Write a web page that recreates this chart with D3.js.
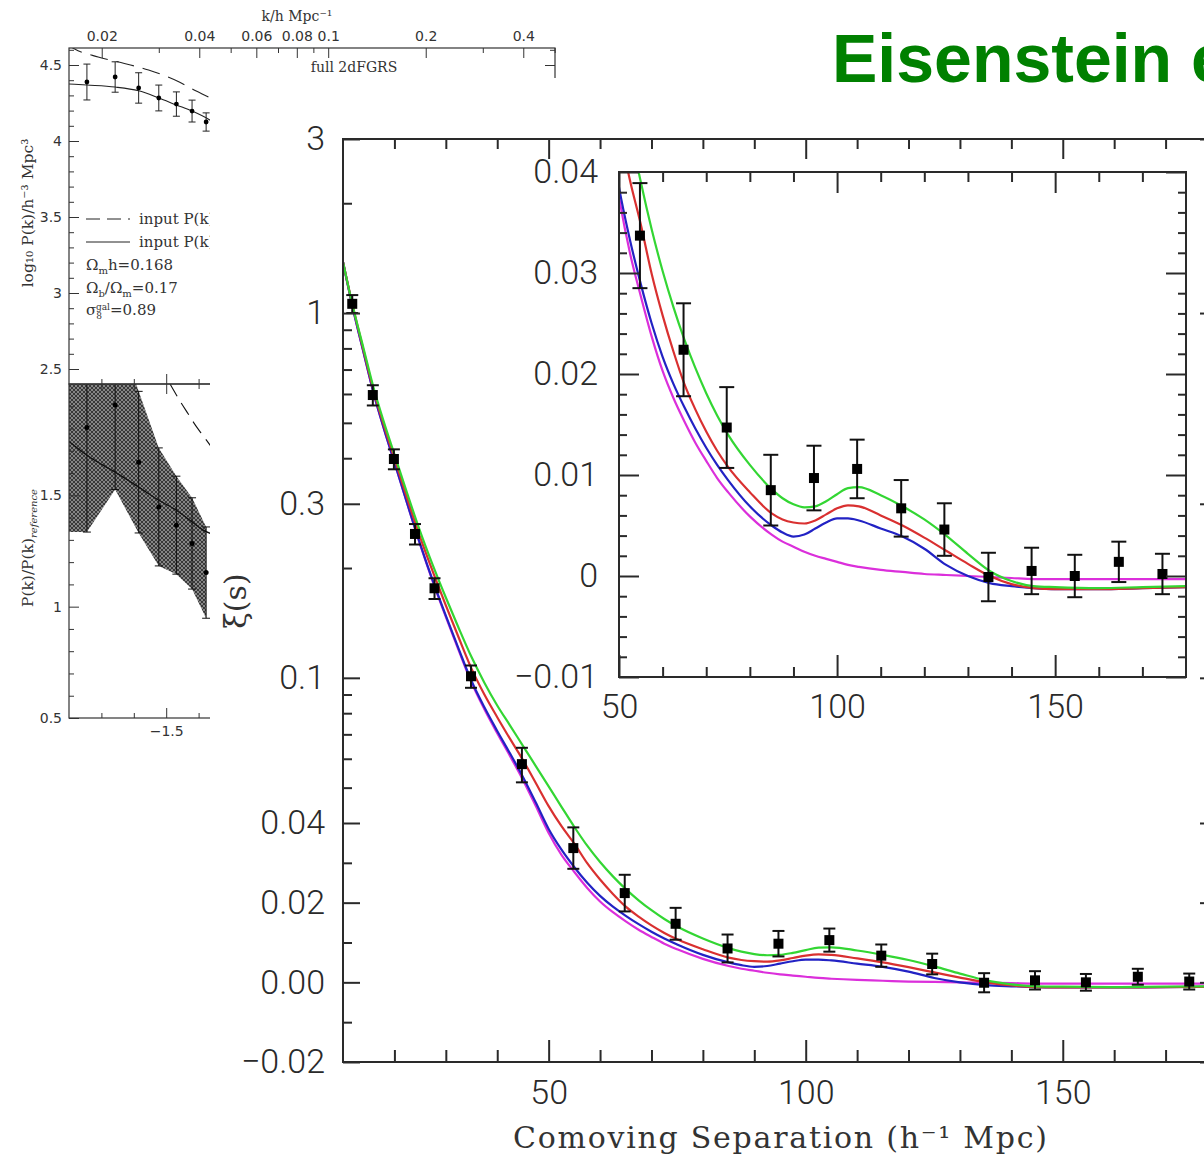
<!DOCTYPE html>
<html><head><meta charset="utf-8">
<script src="https://cdn.jsdelivr.net/npm/d3@7"></script>
<style>html,body{margin:0;padding:0;background:#fff;overflow:hidden}svg{display:block}</style>
</head><body>
<svg id="c" width="1204" height="1156"></svg>
<script>
// ================= DATA =================
// Main figure: model curves xi(s)
const curveS = [10,12,14,16,18,20,22.5,25,27.5,30,32.5,35,37.5,40,42.5,45,47.5,50,52.5,55,57.5,60,62.5,65,67.5,70,72.5,75,80,85,87.5,90,92.5,95,97.5,100,102.5,105,110,115,120,125,130,135,140,145,150,160,170,180];
const xiMagenta = [1.38,1.02,0.78,0.60,0.48,0.39,0.30,0.232,0.183,0.147,0.119,0.097,0.082,0.0705,0.061,0.0525,0.0445,0.0375,0.032,0.0277,0.0237,0.0203,0.0176,0.0153,0.0132,0.0114,0.0097,0.0083,0.0059,0.0041,0.0034,0.0029,0.0024,0.0020,0.0017,0.0014,0.0011,0.0009,0.0006,0.0004,0.0002,0.0001,0.0000,-0.0001,-0.0002,-0.0003,-0.0003,-0.0003,-0.0003,-0.0003];
const xiBlue = [1.38,1.02,0.78,0.60,0.48,0.39,0.30,0.233,0.184,0.148,0.120,0.098,0.083,0.0715,0.062,0.0535,0.0455,0.0385,0.0333,0.0289,0.0250,0.0217,0.0190,0.0167,0.0146,0.0127,0.0110,0.0095,0.0069,0.0050,0.0043,0.0039,0.0041,0.0047,0.0053,0.0057,0.0057,0.0055,0.0047,0.0039,0.0027,0.0011,0.0000,-0.0007,-0.0010,-0.0012,-0.0013,-0.0013,-0.0012,-0.0011];
const xiRed = [1.38,1.03,0.79,0.61,0.49,0.40,0.31,0.243,0.195,0.158,0.129,0.106,0.090,0.078,0.068,0.0595,0.0515,0.0445,0.0392,0.0348,0.0299,0.0258,0.0222,0.0190,0.0165,0.0143,0.0124,0.0108,0.0083,0.0062,0.0056,0.0053,0.0052,0.0055,0.0061,0.0067,0.0070,0.0069,0.0060,0.0050,0.0038,0.0025,0.0012,0.0000,-0.0008,-0.0012,-0.0013,-0.0013,-0.0012,-0.0011];
const xiGreen = [1.38,1.03,0.80,0.62,0.50,0.41,0.32,0.252,0.203,0.166,0.137,0.114,0.097,0.084,0.0740,0.0651,0.0573,0.0504,0.0443,0.0390,0.0343,0.0302,0.0266,0.0234,0.0206,0.0181,0.0159,0.0140,0.0110,0.0086,0.0077,0.0071,0.0068,0.0069,0.0074,0.0081,0.0087,0.0088,0.0080,0.0069,0.0056,0.0040,0.0022,0.0005,-0.0005,-0.0010,-0.0011,-0.0012,-0.0011,-0.0010];
// Main figure: measured points
const pointS   = [11.8,15.8,19.9,24.0,27.8,34.9,44.8,54.8,64.8,74.7,84.8,94.7,104.6,114.7,124.6,134.7,144.6,154.5,164.6,174.6];
const pointXi  = [1.06,0.596,0.398,0.248,0.176,0.101,0.058,0.0337,0.0224,0.0147,0.0085,0.0097,0.0106,0.0067,0.0046,-0.0001,0.0005,0.0000,0.0014,0.0002];
const pointErr = [0.06,0.038,0.025,0.016,0.0115,0.0071,0.0063,0.0052,0.0046,0.0040,0.0035,0.0032,0.0029,0.0028,0.0026,0.0024,0.0023,0.0021,0.0020,0.0020];
// Main axes ticks
const mainXMajor = [50,100,150];
const mainXMinor = [20,30,40,60,70,80,90,110,120,130,140,160,170];
const mainYLogMajor = [3,1,0.3,0.1,0.04];
const mainYLogLabels = ["3","1","0.3","0.1","0.04"];
const mainYLogMinor = [2,0.9,0.8,0.7,0.6,0.5,0.4,0.2,0.09,0.08,0.07,0.06,0.05];
const mainYLinMajor = [0.02,0.00,-0.02];
const mainYLinLabels = ["0.02","0.00","\u22120.02"];
const mainYLinMinor = [0.03,0.01,-0.01];
// Inset ticks
const insetXMajor = [50,100,150];
const insetXMinor = [60,70,80,90,110,120,130,140,160,170];
const insetYMajor = [-0.01,0,0.01,0.02,0.03,0.04];
const insetYLabels = ["\u22120.01","0","0.01","0.02","0.03","0.04"];
const insetYMinor = [-0.008,-0.006,-0.004,-0.002,0.002,0.004,0.006,0.008,0.012,0.014,0.016,0.018,0.022,0.024,0.026,0.028,0.032,0.034,0.036,0.038];

// Background figure (2dFGRS power spectrum)
const pkK    = [0.018,0.022,0.026,0.030,0.034,0.038,0.042];
const pkLog  = [4.388,4.421,4.349,4.283,4.243,4.197,4.125];
const pkErr  = [0.118,0.10,0.10,0.085,0.08,0.072,0.06];
const pkSolidK   = [0.01585,0.018,0.022,0.026,0.030,0.034,0.038,0.043,0.046];
const pkSolidLog = [4.375,4.368,4.355,4.33,4.283,4.237,4.197,4.14,4.10];
const pkDashK    = [0.0155,0.0165,0.0195,0.0235,0.0279,0.0347,0.039,0.0435,0.046];
const pkDashLog  = [4.64,4.605,4.553,4.51,4.467,4.388,4.33,4.28,4.25];
const ratio      = [1.805,1.906,1.649,1.448,1.366,1.284,1.153];
const ratioErr   = [0.47,0.38,0.318,0.265,0.22,0.205,0.205];
const ratioSolidK = [0.01585,0.018,0.022,0.026,0.030,0.034,0.038,0.041,0.044];
const ratioSolid  = [1.742,1.68,1.604,1.537,1.478,1.433,1.381,1.345,1.325];
const ratioDashK  = [0.0325,0.035,0.037,0.039,0.041,0.044];
const ratioDash   = [2.0,1.92,1.865,1.813,1.77,1.71];
const kTopMajor = [0.02,0.04,0.06,0.08,0.1,0.2,0.4];
const kTopLabels = ["0.02","0.04","0.06","0.08","0.1","0.2","0.4"];
const kTopMinor = [0.03,0.05,0.07,0.09,0.3,0.5];
const logPMajor = [2.5,3,3.5,4,4.5];
const logPMinor = [2.6,2.7,2.8,2.9,3.1,3.2,3.3,3.4,3.6,3.7,3.8,3.9,4.1,4.2,4.3,4.4,4.6];
const ratioMajor = [0.5,1,1.5];
const ratioMinor = [0.6,0.7,0.8,0.9,1.1,1.2,1.3,1.4,1.6,1.7,1.8,1.9];
const logKMajor = [-1.5,-1,-0.5];
const logKLabels = ["\u22121.5","\u22121","\u22120.5"];
const logKMinor = [-1.7,-1.6,-1.4,-1.3,-1.2,-1.1,-0.9,-0.8,-0.7,-0.6,-0.4];

// ================= DRAW =================
const svg = d3.select("#c");
const defs = svg.append("defs");
const NUM = "Roboto, 'Liberation Sans', sans-serif";
const SERIF = "'DejaVu Serif', serif";
const SMALL = "'DejaVu Sans', sans-serif";

function styleAxis(g, font, size, color, sw) {
  g.select(".domain").remove();
  g.attr("font-family", font).attr("font-size", size).attr("color", color);
  g.selectAll("line").attr("stroke-width", sw);
  g.selectAll("text").attr("font-weight", font === NUM ? 300 : null);
}

// ---------- Background figure (left) ----------
defs.append("clipPath").attr("id","clipLeft").append("path").attr("d","M0,0H1204V78H210V1156H0Z");
defs.append("clipPath").attr("id","clipTopP").append("rect").attr("x",69).attr("y",48).attr("width",486).attr("height",336);
defs.append("clipPath").attr("id","clipBotP").append("rect").attr("x",69).attr("y",384).attr("width",486).attr("height",334);
const pat = defs.append("pattern").attr("id","hatch").attr("patternUnits","userSpaceOnUse").attr("width",4).attr("height",4);
pat.append("rect").attr("width",4).attr("height",4).attr("fill","#868686");
pat.append("path").attr("d","M0,0L4,4M4,0L0,4").attr("stroke","#303030").attr("stroke-width",0.9);

const kX = d3.scaleLog().domain([Math.pow(10,-1.8), Math.pow(10,-0.3)]).range([69,555]);
const lkX = d3.scaleLinear().domain([-1.8,-0.3]).range([69,555]);
const yTop = d3.scaleLinear().domain([2.5,4.5]).range([369,65]);
const yBot = d3.scaleLinear().domain([0.5,2.0]).range([718,384]);

const L = svg.append("g").attr("clip-path","url(#clipLeft)");
const LC = "#333";

// bottom panel band
const bandData = [{k:kX.domain()[0], r:ratio[0], e:ratioErr[0]}].concat(pkK.map((k,i)=>({k, r:ratio[i], e:ratioErr[i]})));
const botP = L.append("g").attr("clip-path","url(#clipBotP)");
botP.append("path").datum(bandData)
  .attr("d", d3.area().x(d=>kX(d.k)).y0(d=>yBot(d.r-d.e)).y1(d=>yBot(d.r+d.e)))
  .attr("fill","url(#hatch)");
botP.append("path").datum(ratioSolidK.map((k,i)=>[k,ratioSolid[i]]))
  .attr("d", d3.line().x(d=>kX(d[0])).y(d=>yBot(d[1])).curve(d3.curveMonotoneX))
  .attr("fill","none").attr("stroke","#111").attr("stroke-width",1.3);
botP.append("path").datum(ratioDashK.map((k,i)=>[k,ratioDash[i]]))
  .attr("d", d3.line().x(d=>kX(d[0])).y(d=>yBot(d[1])).curve(d3.curveMonotoneX))
  .attr("fill","none").attr("stroke","#111").attr("stroke-width",1.1).attr("stroke-dasharray","14,8");
const rb = botP.append("g").selectAll("g").data(pkK.map((k,i)=>({k,r:ratio[i],e:ratioErr[i]}))).join("g");
rb.append("line").attr("x1",d=>kX(d.k)).attr("x2",d=>kX(d.k)).attr("y1",d=>yBot(d.r-d.e)).attr("y2",d=>yBot(d.r+d.e)).attr("stroke","#111").attr("stroke-width",1);
rb.append("line").attr("x1",d=>kX(d.k)-4).attr("x2",d=>kX(d.k)+4).attr("y1",d=>yBot(d.r-d.e)).attr("y2",d=>yBot(d.r-d.e)).attr("stroke","#111");
rb.append("line").attr("x1",d=>kX(d.k)-4).attr("x2",d=>kX(d.k)+4).attr("y1",d=>yBot(d.r+d.e)).attr("y2",d=>yBot(d.r+d.e)).attr("stroke","#111");
rb.append("circle").attr("cx",d=>kX(d.k)).attr("cy",d=>yBot(d.r)).attr("r",2.5).attr("fill","#000");

// top panel
const topP = L.append("g").attr("clip-path","url(#clipTopP)");
topP.append("path").datum(pkSolidK.map((k,i)=>[k,pkSolidLog[i]]))
  .attr("d", d3.line().x(d=>kX(d[0])).y(d=>yTop(d[1])).curve(d3.curveMonotoneX))
  .attr("fill","none").attr("stroke","#222").attr("stroke-width",1.1);
topP.append("path").datum(pkDashK.map((k,i)=>[k,pkDashLog[i]]))
  .attr("d", d3.line().x(d=>kX(d[0])).y(d=>yTop(d[1])).curve(d3.curveMonotoneX))
  .attr("fill","none").attr("stroke","#222").attr("stroke-width",1.1).attr("stroke-dasharray","18,9");
const tp = topP.append("g").selectAll("g").data(pkK.map((k,i)=>({k,v:pkLog[i],e:pkErr[i]}))).join("g");
tp.append("line").attr("x1",d=>kX(d.k)).attr("x2",d=>kX(d.k)).attr("y1",d=>yTop(d.v-d.e)).attr("y2",d=>yTop(d.v+d.e)).attr("stroke","#222");
tp.append("line").attr("x1",d=>kX(d.k)-3.5).attr("x2",d=>kX(d.k)+3.5).attr("y1",d=>yTop(d.v-d.e)).attr("y2",d=>yTop(d.v-d.e)).attr("stroke","#222");
tp.append("line").attr("x1",d=>kX(d.k)-3.5).attr("x2",d=>kX(d.k)+3.5).attr("y1",d=>yTop(d.v+d.e)).attr("y2",d=>yTop(d.v+d.e)).attr("stroke","#222");
tp.append("circle").attr("cx",d=>kX(d.k)).attr("cy",d=>yTop(d.v)).attr("r",2.4).attr("fill","#000");

// frames
L.append("rect").attr("x",69).attr("y",48).attr("width",486).attr("height",336).attr("fill","none").attr("stroke",LC).attr("stroke-width",1.2);
L.append("rect").attr("x",69).attr("y",384).attr("width",486).attr("height",334).attr("fill","none").attr("stroke",LC).attr("stroke-width",1.2);

// axes of left figure
function lAxis(gen, tr, vals, size, fmt, pad) {
  const g = L.append("g").attr("transform", tr)
    .call(gen.tickValues(vals).tickSize(size).tickPadding(pad||6).tickFormat(fmt || (()=>"")));
  styleAxis(g, SMALL, 14, LC, 1);
  return g;
}
lAxis(d3.axisLeft(yTop), "translate(69,0)", logPMajor, -10, d=>String(d), 7);
lAxis(d3.axisLeft(yTop), "translate(69,0)", logPMinor, -5);
lAxis(d3.axisRight(yTop), "translate(555,0)", logPMajor, -10);
lAxis(d3.axisRight(yTop), "translate(555,0)", logPMinor, -5);
lAxis(d3.axisTop(kX), "translate(0,48)", kTopMajor, -10, (d,i)=>kTopLabels[i], 7);
lAxis(d3.axisTop(kX), "translate(0,48)", kTopMinor, -5);
lAxis(d3.axisBottom(lkX), "translate(0,384)", logKMajor, -10);
lAxis(d3.axisBottom(lkX), "translate(0,384)", logKMinor, -5);
lAxis(d3.axisTop(lkX), "translate(0,384)", logKMajor, -10);
lAxis(d3.axisTop(lkX), "translate(0,384)", logKMinor, -5);
lAxis(d3.axisBottom(lkX), "translate(0,718)", logKMajor, -10, (d,i)=>logKLabels[i], 8);
lAxis(d3.axisBottom(lkX), "translate(0,718)", logKMinor, -5);
lAxis(d3.axisLeft(yBot), "translate(69,0)", ratioMajor, -10, d=>String(d), 7);
lAxis(d3.axisLeft(yBot), "translate(69,0)", ratioMinor, -5);

// left figure texts
L.append("text").attr("x",297).attr("y",21).attr("text-anchor","middle").attr("font-family",SERIF).attr("font-size",14).attr("fill",LC).text("k/h Mpc\u207B\u00B9");
L.append("text").attr("x",354).attr("y",72).attr("text-anchor","middle").attr("font-family",SERIF).attr("font-size",14).attr("fill",LC).text("full 2dFGRS");
L.append("text").attr("transform","translate(33,213) rotate(-90)").attr("text-anchor","middle").attr("font-family",SERIF).attr("font-size",15.5).attr("fill",LC).text("log\u2081\u2080 P(k)/h\u207B\u00B3 Mpc\u00B3");
const rl = L.append("text").attr("transform","translate(33,548) rotate(-90)").attr("text-anchor","middle").attr("font-family",SERIF).attr("font-size",15.5).attr("fill",LC);
rl.append("tspan").text("P(k)/P(k)");
rl.append("tspan").attr("dy",4).attr("font-size",10).attr("font-style","italic").text("reference");
// legend
L.append("line").attr("x1",86).attr("x2",130).attr("y1",219).attr("y2",219).attr("stroke","#222").attr("stroke-dasharray","14,7");
L.append("line").attr("x1",86).attr("x2",130).attr("y1",242).attr("y2",242).attr("stroke","#222");
L.append("text").attr("x",139).attr("y",224).attr("font-family",SERIF).attr("font-size",15).attr("fill",LC).text("input P(k)");
L.append("text").attr("x",139).attr("y",247).attr("font-family",SERIF).attr("font-size",15).attr("fill",LC).text("input P(k)");
const t1 = L.append("text").attr("x",86).attr("y",270).attr("font-family",SERIF).attr("font-size",15).attr("fill",LC);
t1.append("tspan").text("\u03A9"); t1.append("tspan").attr("dy",4).attr("font-size",10).text("m"); t1.append("tspan").attr("dy",-4).text("h=0.168");
const t2 = L.append("text").attr("x",86).attr("y",293).attr("font-family",SERIF).attr("font-size",15).attr("fill",LC);
t2.append("tspan").text("\u03A9"); t2.append("tspan").attr("dy",4).attr("font-size",10).text("b"); t2.append("tspan").attr("dy",-4).text("/\u03A9");
t2.append("tspan").attr("dy",4).attr("font-size",10).text("m"); t2.append("tspan").attr("dy",-4).text("=0.17");
const t3 = L.append("text").attr("x",86).attr("y",315).attr("font-family",SERIF).attr("font-size",15).attr("fill",LC);
t3.append("tspan").text("\u03C3"); t3.append("tspan").attr("dy",4).attr("font-size",9).text("8");
t3.append("tspan").attr("dx",-6).attr("dy",-9).attr("font-size",9).text("gal"); t3.append("tspan").attr("dy",5).text("=0.89");

// ---------- Main figure ----------
const xM = d3.scaleLinear().domain([10,180]).range([343,1217]);
const yLogM = d3.scaleLog().domain([0.04,3]).range([823,139]);
const yLinM = d3.scaleLinear().domain([-0.02,0.04]).range([1062,823]);
const yM = v => v >= 0.04 ? yLogM(v) : yLinM(v);
defs.append("clipPath").attr("id","clipMain").append("rect").attr("x",343).attr("y",139).attr("width",874).attr("height",923);

const series = [
  {name:"magenta", color:"#db2fdb", v:xiMagenta},
  {name:"blue", color:"#2222c4", v:xiBlue},
  {name:"red", color:"#d93030", v:xiRed},
  {name:"green", color:"#33d633", v:xiGreen}
];
const G = svg.append("g");
const lineM = d3.line().x(d=>xM(d[0])).y(d=>yM(d[1])).curve(d3.curveMonotoneX);
const curvesM = G.append("g").attr("clip-path","url(#clipMain)");
series.forEach(s => {
  curvesM.append("path").datum(curveS.map((x,i)=>[x,s.v[i]])).attr("d",lineM)
    .attr("fill","none").attr("stroke",s.color).attr("stroke-width",2.2);
});
const pts = pointS.map((s,i)=>({s, v:pointXi[i], e:pointErr[i]}));
function drawPoints(g, xs, ys, cap, sq) {
  const p = g.append("g").selectAll("g").data(pts.filter(d=>xs(d.s)>=xs.range()[0] && xs(d.s)<=xs.range()[1])).join("g");
  p.append("line").attr("x1",d=>xs(d.s)).attr("x2",d=>xs(d.s)).attr("y1",d=>ys(d.v-d.e)).attr("y2",d=>ys(d.v+d.e)).attr("stroke","#111").attr("stroke-width",2);
  p.append("line").attr("x1",d=>xs(d.s)-cap/2).attr("x2",d=>xs(d.s)+cap/2).attr("y1",d=>ys(d.v-d.e)).attr("y2",d=>ys(d.v-d.e)).attr("stroke","#111").attr("stroke-width",2);
  p.append("line").attr("x1",d=>xs(d.s)-cap/2).attr("x2",d=>xs(d.s)+cap/2).attr("y1",d=>ys(d.v+d.e)).attr("y2",d=>ys(d.v+d.e)).attr("stroke","#111").attr("stroke-width",2);
  p.append("rect").attr("x",d=>xs(d.s)-sq/2).attr("y",d=>ys(d.v)-sq/2).attr("width",sq).attr("height",sq).attr("fill","#000");
}
drawPoints(G.append("g").attr("clip-path","url(#clipMain)"), xM, yM, 12, 10);

const MC = "#2a2a2a";
function mAxis(parent, gen, tr, vals, size, fmt, pad, font, fsize) {
  const g = parent.append("g").attr("transform", tr)
    .call(gen.tickValues(vals).tickSize(size).tickPadding(pad||8).tickFormat(fmt || (()=>"")));
  styleAxis(g, font||NUM, fsize||34, MC, 2);
  return g;
}
mAxis(G, d3.axisLeft(yLogM), "translate(343,0)", mainYLogMajor, -17, (d,i)=>mainYLogLabels[i], 18);
mAxis(G, d3.axisLeft(yLogM), "translate(343,0)", mainYLogMinor, -9);
mAxis(G, d3.axisLeft(yLinM), "translate(343,0)", mainYLinMajor, -17, (d,i)=>mainYLinLabels[i], 18);
mAxis(G, d3.axisLeft(yLinM), "translate(343,0)", mainYLinMinor, -9);
mAxis(G, d3.axisRight(yLogM), "translate(1217,0)", mainYLogMajor, -17);
mAxis(G, d3.axisRight(yLogM), "translate(1217,0)", mainYLogMinor, -9);
mAxis(G, d3.axisRight(yLinM), "translate(1217,0)", mainYLinMajor, -17);
mAxis(G, d3.axisRight(yLinM), "translate(1217,0)", mainYLinMinor, -9);
mAxis(G, d3.axisBottom(xM), "translate(0,1062)", mainXMajor, -22, d=>String(d), 18);
mAxis(G, d3.axisBottom(xM), "translate(0,1062)", mainXMinor, -12);
mAxis(G, d3.axisTop(xM), "translate(0,139)", mainXMajor, -20);
mAxis(G, d3.axisTop(xM), "translate(0,139)", mainXMinor, -10);
G.append("rect").attr("x",343).attr("y",139).attr("width",874).attr("height",923).attr("fill","none").attr("stroke",MC).attr("stroke-width",2);

G.append("text").attr("x",780).attr("y",1148).attr("text-anchor","middle").attr("font-family",SERIF).attr("font-size",30)
  .attr("fill","#333").attr("textLength",534).attr("lengthAdjust","spacing").text("Comoving Separation (h\u207B\u00B9 Mpc)");
G.append("text").attr("transform","translate(246,601) rotate(-90)").attr("text-anchor","middle").attr("font-family",SERIF).attr("font-size",30)
  .attr("fill","#333").text("\u03BE(s)");

// ---------- Inset ----------
const xI = d3.scaleLinear().domain([50,180]).range([619,1186]);
const yI = d3.scaleLinear().domain([-0.01,0.04]).range([677,172]);
defs.append("clipPath").attr("id","clipInset").append("rect").attr("x",619).attr("y",172).attr("width",567).attr("height",505);
const I = svg.append("g");
I.append("rect").attr("x",619).attr("y",172).attr("width",567).attr("height",505).attr("fill","#fff");
const lineI = d3.line().x(d=>xI(d[0])).y(d=>yI(d[1])).curve(d3.curveMonotoneX);
const curvesI = I.append("g").attr("clip-path","url(#clipInset)");
series.forEach(s => {
  curvesI.append("path").datum(curveS.map((x,i)=>[x,s.v[i]])).attr("d",lineI)
    .attr("fill","none").attr("stroke",s.color).attr("stroke-width",2.2);
});
drawPoints(I.append("g").attr("clip-path","url(#clipInset)"), xI, yI, 15, 10);
mAxis(I, d3.axisLeft(yI), "translate(619,0)", insetYMajor, -20, (d,i)=>insetYLabels[i], 21);
mAxis(I, d3.axisLeft(yI), "translate(619,0)", insetYMinor, -8);
mAxis(I, d3.axisRight(yI), "translate(1186,0)", insetYMajor, -20);
mAxis(I, d3.axisRight(yI), "translate(1186,0)", insetYMinor, -8);
mAxis(I, d3.axisBottom(xI), "translate(0,677)", insetXMajor, -22, d=>String(d), 17);
mAxis(I, d3.axisBottom(xI), "translate(0,677)", insetXMinor, -10);
mAxis(I, d3.axisTop(xI), "translate(0,172)", insetXMajor, -21);
mAxis(I, d3.axisTop(xI), "translate(0,172)", insetXMinor, -10);
I.append("rect").attr("x",619).attr("y",172).attr("width",567).attr("height",505).attr("fill","none").attr("stroke",MC).attr("stroke-width",2);

// ---------- Title (cut by the right edge, as in the reference) ----------
svg.append("text").attr("x",832).attr("y",82).attr("font-family","'Liberation Sans', Arial, sans-serif").attr("font-weight","bold")
  .attr("font-size",68).attr("fill","#008000").text("Eisenstein et al. 2005");
</script>
</body></html>
